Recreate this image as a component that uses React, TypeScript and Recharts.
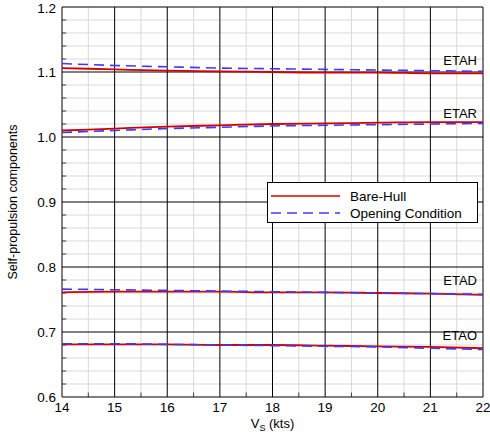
import React from "react"
import { LineChart, Line, XAxis, YAxis, ReferenceLine, ReferenceDot } from "recharts"

const speeds = [14, 15, 16, 17, 18, 19, 20, 21, 22]
const etahBare = [1.106, 1.104, 1.102, 1.101, 1.100, 1.099, 1.099, 1.098, 1.098]
const etahOpen = [1.113, 1.110, 1.108, 1.106, 1.105, 1.104, 1.103, 1.102, 1.101]
const etarBare = [1.010, 1.013, 1.016, 1.018, 1.020, 1.021, 1.022, 1.023, 1.023]
const etarOpen = [1.007, 1.010, 1.013, 1.015, 1.017, 1.018, 1.019, 1.020, 1.021]
const etadBare = [0.761, 0.762, 0.762, 0.762, 0.761, 0.761, 0.760, 0.759, 0.757]
const etadOpen = [0.766, 0.765, 0.764, 0.763, 0.762, 0.761, 0.760, 0.759, 0.758]
const etaoBare = [0.681, 0.681, 0.681, 0.680, 0.680, 0.679, 0.678, 0.677, 0.675]
const etaoOpen = [0.682, 0.682, 0.681, 0.680, 0.679, 0.678, 0.677, 0.675, 0.673]

const xTicks = [14, 15, 16, 17, 18, 19, 20, 21, 22]
const xMinor = [14.5, 15.5, 16.5, 17.5, 18.5, 19.5, 20.5, 21.5]
const yTicks = [0.6, 0.7, 0.8, 0.9, 1.0, 1.1, 1.2]
const yMinor = [
  0.62, 0.64, 0.66, 0.68, 0.72, 0.74, 0.76, 0.78, 0.82, 0.84, 0.86, 0.88,
  0.92, 0.94, 0.96, 0.98, 1.02, 1.04, 1.06, 1.08, 1.12, 1.14, 1.16, 1.18,
]
const curveLabels = [
  { name: "ETAH", y: 1.118 },
  { name: "ETAR", y: 1.037 },
  { name: "ETAD", y: 0.78 },
  { name: "ETAO", y: 0.695 },
]

const data = speeds.map((v, i) => ({
  v,
  etahBare: etahBare[i],
  etahOpen: etahOpen[i],
  etarBare: etarBare[i],
  etarOpen: etarOpen[i],
  etadBare: etadBare[i],
  etadOpen: etadOpen[i],
  etaoBare: etaoBare[i],
  etaoOpen: etaoOpen[i],
}))

const FONT = "Liberation Sans, Arial, sans-serif"
const RED = "#d40000"
const BLUE = "#3a3aff"

const bareKeys = ["etahBare", "etarBare", "etadBare", "etaoBare"]
const openKeys = ["etahOpen", "etarOpen", "etadOpen", "etaoOpen"]

function LegendBox() {
  return (
    <div
      style={{
        position: "absolute",
        left: 267,
        top: 182,
        width: 209,
        height: 39,
        border: "1px solid #000",
        background: "#fff",
      }}
    >
      <svg width={209} height={39} style={{ position: "absolute", left: 0, top: 0 }}>
        <line x1={3} x2={72} y1={13} y2={13} stroke={RED} strokeWidth={1.5} />
        <line x1={3} x2={72} y1={30} y2={30} stroke={BLUE} strokeWidth={1.5} strokeDasharray="10 6" />
        <text x={82} y={18} fontSize={13.5} fontFamily={FONT}>Bare-Hull</text>
        <text x={82} y={35} fontSize={13.5} fontFamily={FONT}>Opening Condition</text>
      </svg>
    </div>
  )
}

function XLabel(props: any) {
  const vb = props.viewBox
  const cx = vb.x + vb.width / 2
  return (
    <text x={cx} y={vb.y + 31} textAnchor="middle" fontSize={13} fontFamily={FONT} fill="#000">
      V<tspan fontSize={9} dy={3}>S</tspan>
      <tspan dy={-3}> (kts)</tspan>
    </text>
  )
}

export default function App() {
  return (
    <div style={{ position: "absolute", left: 0, top: 0, width: 490, height: 436, background: "#fff" }}>
      <LineChart width={490} height={436} data={data} margin={{ top: 7, right: 7, left: 0, bottom: 0 }}>
        <XAxis
          dataKey="v"
          type="number"
          domain={[14, 22]}
          ticks={xTicks}
          allowDataOverflow
          axisLine={false}
          tickLine={false}
          tickSize={0}
          tickMargin={5}
          height={39}
          tick={{ fontSize: 13.5, fontFamily: FONT, fill: "#000" }}
          label={<XLabel />}
        />
        <YAxis
          type="number"
          domain={[0.6, 1.2]}
          ticks={yTicks}
          allowDataOverflow
          axisLine={false}
          tickLine={false}
          tickSize={0}
          tickMargin={6}
          width={62}
          tickFormatter={(v: number) => v.toFixed(1)}
          tick={{ fontSize: 13.5, fontFamily: FONT, fill: "#000" }}
          label={{
            value: "Self-propulsion components",
            angle: -90,
            position: "insideLeft",
            dx: 8,
            style: { textAnchor: "middle", fontSize: 12.5, fontFamily: FONT, fill: "#000" },
          }}
        />
        {xMinor.map((x) => (
          <ReferenceLine key={"xm" + x} x={x} stroke="#d9d9d9" strokeWidth={1} />
        ))}
        {yMinor.map((y) => (
          <ReferenceLine key={"ym" + y} y={y} stroke="#d9d9d9" strokeWidth={1} />
        ))}
        {xMinor.map((x) => (
          <ReferenceLine
            key={"xt" + x}
            segment={[{ x, y: 0.6 }, { x, y: 0.607 }]}
            stroke="#444"
            strokeWidth={1}
          />
        ))}
        {yMinor.map((y) => (
          <ReferenceLine
            key={"yt" + y}
            segment={[{ x: 14, y }, { x: 14.08, y }]}
            stroke="#444"
            strokeWidth={1}
          />
        ))}
        {xTicks.map((x) => (
          <ReferenceLine key={"xM" + x} x={x} stroke="#000" strokeWidth={1} />
        ))}
        {yTicks.map((y) => (
          <ReferenceLine key={"yM" + y} y={y} stroke="#000" strokeWidth={1} />
        ))}
        {bareKeys.map((k) => (
          <Line key={k} dataKey={k} type="monotone" stroke={RED} strokeWidth={1.8} dot={false} isAnimationActive={false} />
        ))}
        {openKeys.map((k) => (
          <Line
            key={k}
            dataKey={k}
            type="monotone"
            stroke={BLUE}
            strokeWidth={1.6}
            strokeDasharray="10 6"
            dot={false}
            isAnimationActive={false}
          />
        ))}
        {curveLabels.map((c) => (
          <ReferenceDot
            key={c.name}
            x={22}
            y={c.y}
            r={0}
            stroke="none"
            fill="none"
            label={{ value: c.name, position: "left", offset: 6, fontSize: 13, fontFamily: FONT, fill: "#000" }}
          />
        ))}
      </LineChart>
      <LegendBox />
    </div>
  )
}
